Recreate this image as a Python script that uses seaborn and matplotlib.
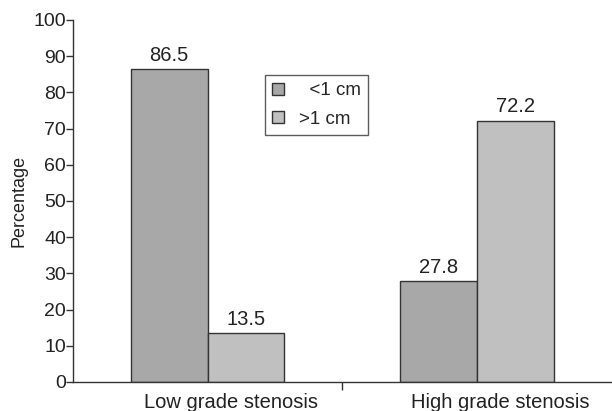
import matplotlib
matplotlib.use("Agg")
import matplotlib.pyplot as plt
import matplotlib.transforms as mtransforms
import seaborn as sns
import pandas as pd
from matplotlib.ticker import FixedLocator

categories = ["Low grade stenosis", "High grade stenosis"]
groups = ["<1 cm", ">1 cm"]
lt1 = [86.5, 27.8]
gt1 = [13.5, 72.2]
legend_labels = ["  <1 cm", ">1 cm"]

df = pd.DataFrame({
    "cat": categories * 2,
    "grp": [groups[0]] * 2 + [groups[1]] * 2,
    "val": lt1 + gt1,
})

sns.set_style("white")
plt.rcParams["font.family"] = ["Liberation Sans", "DejaVu Sans"]

fig = plt.figure(figsize=(6.12, 4.11), dpi=100)
ax = fig.add_axes([0.119, 0.0706, 0.881, 0.881])

sns.barplot(data=df, x="cat", y="val", hue="grp", order=categories, hue_order=groups,
            palette=["#a8a8a8", "#c0c0c0"], width=0.57, edgecolor="#333333",
            linewidth=1.0, saturation=1, ax=ax, legend=True)

for cont in ax.containers:
    ax.bar_label(cont, fmt="%.1f", padding=3, fontsize=14.5, color="#222222")

ax.set_ylim(0, 100)
ax.set_xlim(-0.5, 1.5)
ax.set_yticks(range(0, 101, 10))
ax.tick_params(axis="y", labelsize=14, length=5, width=1, color="#333333", direction="out", pad=0, left=True, labelcolor="#222222")
ax.tick_params(axis="x", labelsize=14.5, length=0, pad=8, labelcolor="#222222")
ax.xaxis.set_minor_locator(FixedLocator([0.5]))
ax.tick_params(axis="x", which="minor", length=6, width=1, color="#333333", direction="out", bottom=True)
offset = mtransforms.ScaledTranslation(23 / 100, 0, fig.dpi_scale_trans)
for lab in ax.get_xticklabels():
    lab.set_transform(lab.get_transform() + offset)
ax.set_xlabel("")
ax.set_ylabel("Percentage", fontsize=13, color="#222222", labelpad=4)
for s in ["top", "right"]:
    ax.spines[s].set_visible(False)
for s in ["left", "bottom"]:
    ax.spines[s].set_color("#333333")
    ax.spines[s].set_linewidth(1)

h, l = ax.get_legend_handles_labels()
leg = ax.legend(h, legend_labels, loc="upper left", bbox_to_anchor=(0.356, 0.848),
                fontsize=13.5, frameon=True, fancybox=False, edgecolor="#333333",
                handlelength=0.6, handleheight=0.6, handletextpad=0.8, borderpad=0.4,
                labelspacing=0.6, borderaxespad=0)
leg.get_frame().set_linewidth(1)

fig.savefig("out.png", dpi=100)
